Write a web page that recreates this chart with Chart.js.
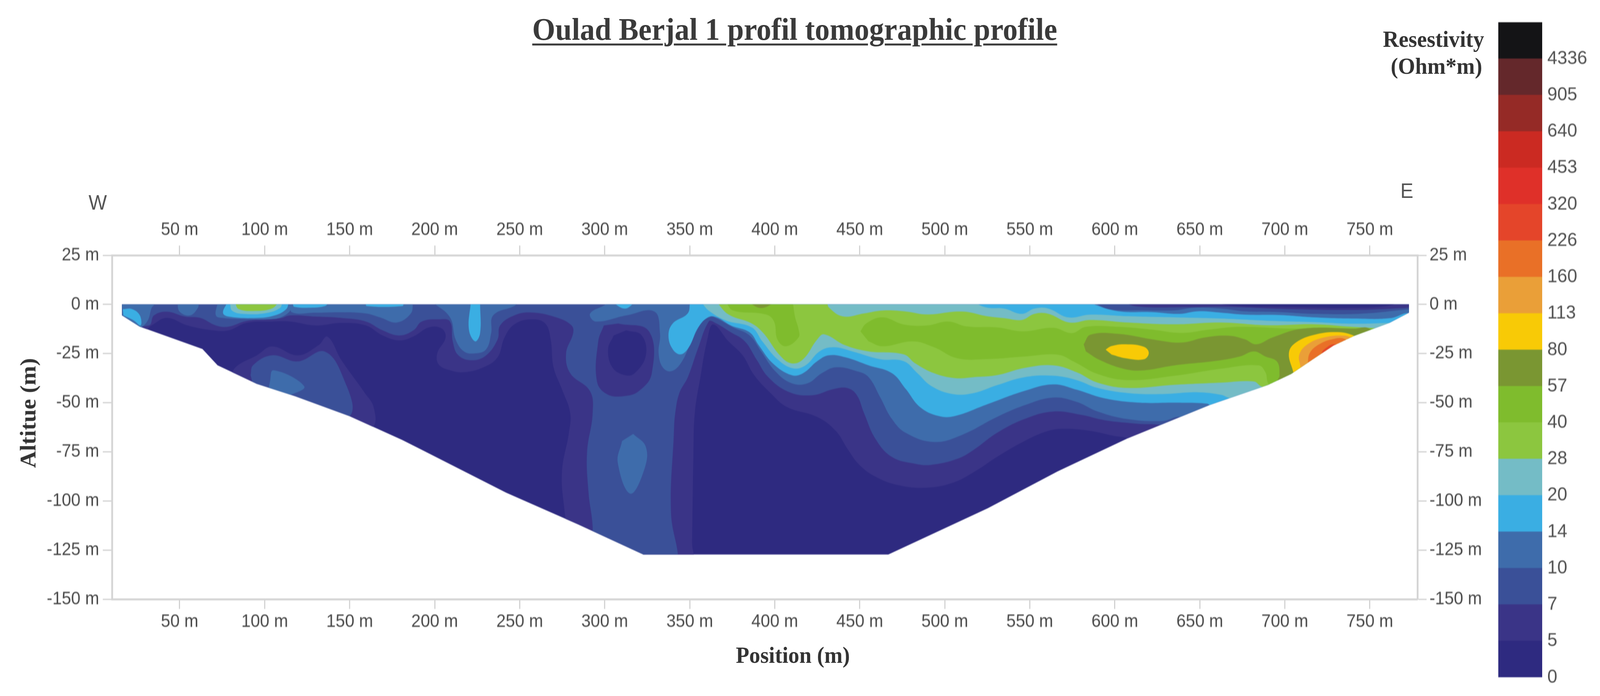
<!DOCTYPE html>
<html lang="en">
<head>
<meta charset="UTF-8">
<title>Oulad Berjal 1 profil tomographic profile</title>
<script src="https://cdn.jsdelivr.net/npm/chart.js"></script>
<style>
  html, body { margin: 0; padding: 0; background: #fff; overflow: hidden; }
  #page { position: absolute; left: 0; top: 0; width: 4373px; height: 1783px; transform-origin: 0 0; }
  canvas { position: absolute; top: 0; filter: blur(0.8px); }
  #main { left: 0; }
  #bar { left: 4095px; }
  .lbl { position: absolute; white-space: nowrap; transform: translate(-50%, -50%); }
  .serif { font-family: "Liberation Serif", serif; font-weight: bold; color: #333; font-size: 60px; }
  .sans { font-family: "Liberation Sans", sans-serif; color: #555; font-size: 53px; }
  #title { font-size: 81px; color: #3a3a3a; text-decoration: underline; text-decoration-thickness: 5px; text-underline-offset: 10px; }
</style>
</head>
<body>
<div id="page">
<canvas id="main" width="4373" height="1783"></canvas>
<canvas id="bar" width="278" height="1783"></canvas>

<div id="title" class="lbl serif" style="left:2172px; top:75px">Oulad Berjal 1 profil tomographic profile</div>
<div class="lbl serif" style="left:3918px; top:100px">Resestivity</div>
<div class="lbl serif" style="left:3926px; top:169px">(Ohm*m)</div>
<div class="lbl serif" style="left:2167px; top:1678px">Position (m)</div>
<div class="lbl serif" style="left:77px; top:1058px; transform:translate(-50%,-50%) rotate(-90deg)">Altitue (m)</div>
<div class="lbl sans" style="left:267px; top:518px">W</div>
<div class="lbl sans" style="left:3845px; top:488px">E</div>
</div>

<script>
// the browser window can come up narrower than the 4373 px layout, so fit it to the width we got
document.getElementById('page').style.transform = 'scaleX(' + (window.innerWidth / 4373) + ')';

// axes
const xMin = 10.2, xMax = 778, yMin = -150, yMax = 25;
const xTickValues = [50, 100, 150, 200, 250, 300, 350, 400, 450, 500, 550, 600, 650, 700, 750];
const yTickValues = [25, 0, -25, -50, -75, -100, -125, -150];

// colour scale
const bandLabels = ['0', '5', '7', '10', '14', '20', '28', '40', '57', '80', '113', '160', '226', '320', '453', '640', '905', '4336'];
const bandColors = ['#2e2a80', '#3a3487', '#3a5098', '#3e6cab', '#3aaee3', '#74bcc6', '#8cc63f', '#7fbc2d', '#7a9632',
  '#f8ca06', '#ea9f38', '#e97027', '#e4452a', '#df3029', '#cb2a22', '#952a26', '#64282b', '#141416'];

// section outline [position m, altitude m]
const profileOutline = [[16.1,0],[16.1,-5.6],[26.5,-11.3],[63.4,-22.7],[72.3,-31],[95.3,-40.4],[117.9,-46.7],[149.7,-56.8],[180.9,-69],[192.4,-74],[242,-95.8],[284.5,-112],[322.8,-127.3],[466.8,-127.3],[525.4,-103.7],[566.4,-85],[608,-68],[655.8,-51.2],[690,-41],[703.7,-35.4],[717.4,-27.4],[728.5,-21],[740.7,-16],[761.7,-9.3],[773,-4.2],[773,0]];

// contours, each one is clipped to the outline
const band5Main = [[12,5],[12,-10],[29,-13.2],[33.5,-10.7],[42.5,-6.9],[54.6,-10.7],[69.7,-13.2],[78.8,-13.2],[89.3,-9.4],[104.4,-8.7],[114.9,-8.7],[130,-10.7],[145.2,-9.4],[159.5,-10.7],[169.4,-15.8],[179.2,-18.3],[187.5,-16.3],[196.6,-11.7],[204,-12.2],[206.4,-16.8],[201.5,-24.9],[202.3,-30.5],[209,-33.5],[217.2,-34.5],[228.7,-32],[237,-26.9],[241.1,-16.8],[246.8,-10.2],[256.7,-7.6],[265,-9.7],[268.2,-17.8],[269.9,-32],[274.8,-43.1],[279.7,-55.3],[278.9,-65.4],[274.8,-85.7],[276.5,-106],[278.2,-116],[278,-135],[351,-135],[351.4,-121.2],[352.2,-75.5],[353,-55.3],[356.3,-37],[360.4,-17.8],[363.8,-10.2],[372.8,-18.8],[381.1,-25.9],[387.9,-36],[397.5,-45.1],[407.2,-52.2],[425,-57.3],[435.9,-64.4],[442.8,-73.5],[449.7,-81.6],[459.3,-87.7],[471.7,-91.8],[488.1,-93.3],[504.6,-90.8],[518.3,-84.7],[530.7,-77.6],[547,-69.5],[559.7,-64.7],[569.2,-63.3],[584.3,-64.2],[599.4,-66.9],[607.7,-68.2],[625,-76],[777,-76],[777,5]];
const band5Patch = [[80.2,-38.5],[82.6,-32.2],[95.4,-25.9],[104.4,-21.4],[119.5,-25.9],[131.6,-20.8],[137,-16.4],[145.2,-28.4],[158.8,-44.9],[164.2,-52.5],[163.4,-62.6],[141,-70],[90,-50]];
const band7Main = [[12,5],[12,-9],[31.9,-10.7],[34.9,-5.6],[42.5,-3.7],[53.1,-6.2],[62.2,-6.9],[71.3,-10.7],[78.8,-11.3],[89.3,-8.4],[109,-7.1],[115,-5.6],[130.1,-6.2],[145.2,-6.9],[159.5,-8.7],[169.4,-13.2],[179.2,-15.8],[187.5,-13.2],[192.4,-8.7],[202.3,-7.6],[209,-8.7],[210.6,-18.8],[213.9,-25.9],[222.1,-28.4],[230.3,-25.9],[237,-17.8],[238.5,-10.7],[246.8,-5.6],[256.7,-4.1],[271.5,-6.6],[280.5,-10.7],[281.4,-14.7],[277.3,-24.9],[279.7,-35],[291.3,-44.1],[292.9,-55.3],[289.6,-75.5],[290.5,-95.8],[292.9,-113],[293,-135],[343,-135],[343.1,-127.4],[339,-106],[340.7,-65.4],[341.5,-55.3],[343.9,-45.1],[348.9,-37],[354.7,-22.8],[361.2,-8.7],[364.6,-9.2],[374.2,-14.2],[382.4,-18.8],[389.2,-27.9],[396.2,-37],[408.5,-44.6],[422.2,-46.2],[434.6,-43.1],[442.8,-42.6],[448.3,-46.2],[452.5,-55.3],[459.3,-68.5],[468.9,-77.6],[482.7,-81.1],[492.2,-81.6],[507.3,-78.6],[517,-74],[530.7,-65.4],[547,-58.3],[563.8,-54.5],[580.2,-56.2],[594,-58.9],[613.2,-60.7],[629.6,-62],[645,-70],[777,-70],[777,5]];
const band7Patch = [[91.7,-36],[93.2,-30.9],[104.4,-25.9],[119.5,-29],[135.4,-24],[146.8,-38.5],[150.6,-56.3],[130.5,-60],[95.4,-48]];
const band5Blob = [[308,-9.7],[326,-13.7],[327.7,-35],[320.1,-44.1],[311,-46.7],[301.2,-45.6],[295.4,-39],[296.2,-18.8],[299.5,-10.7]];
const band0Blob = [[312.7,-13.2],[321.8,-15.8],[324.2,-25.9],[317.6,-35],[311.9,-36],[304.5,-32],[302,-22.8],[305.3,-15.8]];
const band10Left = [[12,5],[12,-20],[27,-12],[31.3,-8.1],[33.5,-1.8],[35,0],[35,5]];
const band10Chip = [[48.6,1],[50,-3.7],[56.1,-5.6],[60.7,-1.8],[61.3,1]];
const band10Upper = [[72.4,1],[71.3,-5.6],[75.5,-6.9],[89.3,-7.5],[104.4,-7.5],[110.5,-6.2],[115.8,-2.4],[116.5,1]];
const band10Ridge = [[116,1],[116,-4],[130,-4.2],[145,-4],[159.5,-4.6],[167.8,-6.6],[177.7,-9.2],[186,-4.6],[187.3,1]];
const band10Lobe = [[199,1],[209,-6.6],[212.3,-17.8],[217.2,-23.9],[223.8,-24.9],[230.3,-22.8],[233.2,-14.7],[234.4,-5.6],[246.8,-0.8],[249.3,1]];
const band10Patch = [[103,-39.8],[105.2,-33.5],[123.3,-41.7],[115,-46.1],[100.4,-50]];
const band10Oval = [[316.8,-65.9],[324.2,-72.5],[323.4,-83.7],[315.1,-96.3],[307.7,-80.6],[310.2,-69.5]];
const band10Main = [[302,5],[302,1],[291.4,-4.6],[294.7,-8.7],[312.7,-5.6],[329.2,-3.6],[332.5,-14.7],[331.7,-24.9],[334.1,-32],[339,-34],[344.7,-30],[350.6,-19.8],[357.1,-9.2],[362.1,-6.4],[364.6,-6.6],[375.5,-11.7],[385.2,-15.8],[392,-23.9],[400.3,-34],[409.9,-40.1],[419.4,-40.1],[427.7,-35],[435.9,-32],[448.3,-34],[455.2,-37],[462,-47.2],[468.9,-58.3],[477.1,-65.4],[493.7,-70],[510.1,-66.4],[530.7,-57.3],[547,-51.3],[563.8,-47.4],[577.5,-49.6],[589.9,-54.5],[607.7,-58.4],[628.2,-59.3],[639.3,-57.6],[655,-70],[777,-70],[777,5]];
const stripBand7 = [[589.9,2],[589.9,0],[598.1,-2.6],[614.6,-3],[635.2,-3],[646.1,-1.7],[662.5,-2.1],[676.3,-3.5],[696.8,-3.9],[717.4,-4.8],[745.4,-4.7],[773,-2.5],[777,-2.5],[777,2]];
const stripBand5 = [[603,2],[613,-1],[644,-1.4],[664,-1.2],[704,-2.4],[741,-2.8],[765,-2],[775,-1],[777,2]];
const stripBand0 = [[654,2],[669,-0.6],[704,-1.4],[741,-1.7],[760,-0.8],[770,2]];
const band14Main = [[350.2,1],[348.8,-4.6],[340,-9.7],[337.5,-15.8],[340,-22.8],[344.8,-25.4],[349.5,-21.8],[355,-11.7],[361.1,-6.4],[366,-6.6],[374.2,-10.7],[385.2,-14.2],[390.6,-20.8],[398.9,-30],[409.9,-36],[416.7,-35],[425,-28.9],[431.8,-25.9],[441.5,-26.9],[455.2,-31],[468.9,-35],[477.1,-43.1],[485.4,-52.2],[496.4,-56.8],[506,-56.8],[523.9,-51.2],[547,-44],[563.8,-40.7],[577.5,-43.4],[594,-47.8],[614.6,-50],[635.2,-50],[654.3,-50.5],[657,-52],[684,-60],[777,-60],[777,-8],[773,-4.4],[762,-7],[740.7,-7.2],[717.4,-6.6],[696.8,-5.4],[676.3,-5.2],[662.5,-4.2],[648.8,-3.5],[638,-4.8],[621.4,-3.9],[602.2,-3.5],[587.8,0],[587.8,1]];
const band14Left = [[16.6,-2.4],[22.1,-2.4],[26.6,-5.6],[27.1,-10.7],[22.9,-8.1],[16.9,-5.6]];
const band14Upper = [[78,1],[75.5,-4.3],[78.8,-6.2],[95.3,-6.9],[105.9,-5.6],[112.7,-2.4],[114.2,1]];
const band14Ridge = [[116.5,0.5],[117.4,-1.2],[128.5,-1.6],[135.5,-0.8],[137.5,0.5]];
const band14Chip = [[159.5,1],[160,-0.8],[181,-0.8],[182,1]];
const band14Stripe = [[221.2,1],[220.1,-12.7],[223.8,-18.8],[226.7,-14.7],[226.7,1]];
const band14Dip = [[304.5,1],[311.9,-2.1],[317.8,1]];
const band20Upper = [[79.5,1],[81,-3.3],[89.3,-4.9],[101.4,-4.3],[109,-1.8],[110.5,1]];
const band20Main = [[357,1],[361.1,-3.1],[371.4,-8.2],[386.5,-11.7],[392.7,-18.8],[401.6,-27.9],[410.6,-32.5],[418.1,-31],[426.4,-23.9],[434.6,-21.8],[445.6,-23.9],[462,-27.9],[475.8,-28.9],[483.9,-35],[492.2,-41.6],[504.6,-45.6],[517,-45.1],[530.7,-41.1],[547,-37],[563.8,-36.3],[577.5,-38.5],[589.9,-42.5],[607.7,-45.1],[628.2,-45.6],[648.8,-44.7],[662.5,-46],[666.6,-47.4],[690,-55],[777,-55],[777,-9],[762,-9.4],[739.6,-9.8],[717.4,-9],[690,-8.3],[662.5,-7.2],[635.2,-6.6],[607.7,-6],[585.7,-5.2],[572.6,-6.6],[560.9,-2.1],[552.8,-2.1],[545.3,-4.8],[534.9,-2.1],[525.4,-1.7],[519.7,0],[519.7,1]];
const band28Upper = [[82.5,1],[84.8,-2.4],[95.3,-3.3],[104.4,-2],[108.2,1]];
const band28Main = [[366,1],[372.8,-5.1],[386.5,-9.7],[393.4,-14.7],[403,-25.9],[409.9,-30],[416.7,-27.9],[425,-17.8],[429.1,-15.2],[441.5,-20.8],[455.2,-23.9],[475.8,-25.4],[482.7,-30],[493.7,-35],[506,-37.5],[517,-37],[530.7,-36],[547,-32.3],[563.8,-31],[577.5,-34.5],[589.9,-39.8],[607.7,-42.5],[635.2,-40.9],[662.5,-39.8],[681.7,-39.2],[685.9,-41.6],[705,-50],[777,-50],[777,-12],[762,-12.3],[739.6,-11.4],[717.4,-10.1],[690,-10.6],[662.5,-9.2],[635.2,-10.1],[607.7,-9.2],[585.7,-7.9],[573.3,-9.2],[560.9,-4.8],[552.8,-4.8],[545.3,-7.9],[534.9,-7],[525.4,-6.1],[510,-3.6],[489.5,-5.1],[477.1,-3.6],[463.4,-3.1],[452.5,-4.6],[440.1,-6.1],[431.9,-1.6],[430.8,1]];
const band40Tongue = [[371.4,1],[375.5,-3.1],[394.8,-5.1],[399.6,-8.7],[401.6,-17.8],[406.5,-21.3],[414,-16.8],[414,-12.7],[412,-6.6],[410.6,1]];
const band40Main = [[450.4,-13.7],[453.8,-9.7],[463.4,-6.6],[475.8,-10.2],[489.5,-10.7],[502,-8.7],[512.9,-11.2],[530.7,-11.7],[545.9,-13.7],[563.8,-11.9],[574.8,-14.6],[583,-11.4],[602.1,-11.4],[621.4,-12.8],[639.3,-14.5],[655.7,-12.8],[673.5,-11.4],[703.7,-12.3],[740.7,-12.3],[755,-14],[765,-30],[705,-50],[690.7,-40.7],[688.6,-34.5],[684.5,-31],[662.5,-32.7],[635.2,-36.3],[607.7,-38.5],[589.9,-35.4],[576.1,-29.2],[566.6,-25.6],[547,-26.5],[525.4,-27.8],[507.3,-27.4],[493.7,-21.8],[481.3,-18.8],[463.4,-21.3],[455.2,-18.8]];
const band57Chip = [[384.5,1],[392,-1.8],[400.3,1]];
const band57Main = [[581.7,-20.3],[585.7,-15.4],[602.1,-15],[624.2,-18.1],[639.3,-19.4],[653,-16.8],[666.7,-15.9],[676.3,-17.7],[683.2,-20.3],[692.8,-16.8],[710.6,-12.3],[740.7,-12.3],[750,-12.5],[760,-25],[720,-50],[696,-39],[696.9,-36.3],[695.5,-29.2],[688.6,-26.5],[681.8,-23.9],[673.5,-26.5],[659.8,-28.7],[635.2,-31],[615.9,-33.6],[605,-32.7],[591.2,-28.3],[583,-23.9]];
const band80Blob = [[594.6,-23],[598.1,-21.2],[606.3,-20.3],[617.2,-21.6],[620,-24.7],[617.2,-27.9],[606.3,-27.4],[598.1,-25.5]];
const band80Right = [[705,-34.5],[702.4,-24.7],[706.5,-19.4],[717.5,-15.4],[731.2,-14.1],[740.7,-15.9],[750,-20],[720,-42],[705,-42]];
const band113 = [[709.2,-31.8],[708.5,-25.6],[713.4,-20.3],[723,-16.8],[735.4,-15.9],[740.7,-17.7],[750,-22],[725,-42],[710,-40]];
const band160 = [[713.4,-30.5],[714.7,-24.7],[720.2,-20.3],[728.5,-17.6],[735.3,-17.6],[745,-24],[725,-40]];
const band226 = [[721,-26.1],[723,-23],[729.8,-20.3],[740,-25],[725,-35]];

// painter's order: [contour, index into bandColors]
const layers = [
  [band5Main, 1], [band5Patch, 1], [band7Main, 2], [band7Patch, 2], [band5Blob, 1], [band0Blob, 0],
  [band10Main, 3], [band10Left, 3], [band10Chip, 3], [band10Upper, 3], [band10Ridge, 3], [band10Lobe, 3], [band10Patch, 3], [band10Oval, 3],
  [stripBand7, 2], [stripBand5, 1], [stripBand0, 0],
  [band14Main, 4], [band14Left, 4], [band14Upper, 4], [band14Ridge, 4], [band14Chip, 4], [band14Stripe, 4], [band14Dip, 4],
  [band20Main, 5], [band20Upper, 5], [band28Main, 6], [band28Upper, 6],
  [band40Main, 7], [band40Tongue, 7], [band57Main, 8], [band57Chip, 8],
  [band80Blob, 9], [band80Right, 9], [band113, 10], [band160, 11], [band226, 12]
];

const toXY = pts => pts.map(p => ({ x: p[0], y: p[1] }));

const datasets = [{
  data: toXY(profileOutline), showLine: true, fill: 'shape', tension: 0, pointRadius: 0, borderWidth: 0,
  backgroundColor: bandColors[0], order: layers.length + 1
}];
layers.forEach((l, i) => datasets.push({
  data: toXY(l[0]), showLine: true, fill: 'shape', tension: 0.4, pointRadius: 0, borderWidth: 0,
  backgroundColor: bandColors[l[1]], order: layers.length - i
}));

// keep the contours inside the section outline
const clipToProfile = {
  id: 'clipToProfile',
  beforeDatasetsDraw(chart) {
    const { ctx, scales } = chart;
    ctx.save();
    ctx.beginPath();
    profileOutline.forEach((p, i) => {
      const px = scales.x.getPixelForValue(p[0]), py = scales.y.getPixelForValue(p[1]);
      i ? ctx.lineTo(px, py) : ctx.moveTo(px, py);
    });
    ctx.closePath();
    ctx.clip();
  },
  afterDatasetsDraw(chart) { chart.ctx.restore(); }
};

const axisGrey = '#d4d4d4';
const tickFont = { family: '"Liberation Sans", sans-serif', size: 46 };
const axisGrid = { drawOnChartArea: false, tickLength: 25, tickWidth: 3, tickColor: '#cfcfcf' };
const axisBorder = { color: axisGrey, width: 5 };
const mLabel = v => v + ' m';

function xAxis(position, boxHeight, padding) {
  return {
    type: 'linear', position, min: xMin, max: xMax,
    grid: axisGrid, border: axisBorder,
    ticks: { font: tickFont, color: '#4a4a4a', padding, autoSkip: false, maxRotation: 0, callback: mLabel },
    afterBuildTicks: s => { s.ticks = xTickValues.map(v => ({ value: v })); },
    afterFit: s => { s.height = boxHeight; }
  };
}
function yAxis(position, boxWidth, padding) {
  return {
    type: 'linear', position, min: yMin, max: yMax,
    grid: axisGrid, border: axisBorder,
    ticks: { font: tickFont, color: '#4a4a4a', padding, autoSkip: false, callback: mLabel },
    afterBuildTicks: s => { s.ticks = yTickValues.map(v => ({ value: v })); },
    afterFit: s => { s.width = boxWidth; }
  };
}

new Chart(document.getElementById('main'), {
  type: 'scatter',
  data: { datasets },
  options: {
    responsive: false, animation: false, devicePixelRatio: 1, events: [],
    layout: { padding: 0 },
    plugins: { legend: { display: false }, tooltip: { enabled: false } },
    scales: {
      x: xAxis('bottom', 248, 6),
      xTop: xAxis('top', 654, 12),
      y: yAxis('left', 306, 10),
      yRight: yAxis('right', 499, 8)
    }
  },
  plugins: [clipToProfile]
});

// colour scale, one stacked bar segment per band
new Chart(document.getElementById('bar'), {
  type: 'bar',
  data: {
    labels: [''],
    datasets: bandColors.map(c => ({ data: [1], backgroundColor: c, barPercentage: 1, categoryPercentage: 1, borderWidth: 0 }))
  },
  options: {
    responsive: false, animation: false, devicePixelRatio: 1, events: [],
    layout: { padding: { top: 57, bottom: 48 } },
    plugins: { legend: { display: false }, tooltip: { enabled: false } },
    scales: {
      x: { stacked: true, display: false },
      y: {
        stacked: true, position: 'right', min: 0, max: bandLabels.length,
        grid: { display: false, drawTicks: false }, border: { display: false },
        ticks: {
          font: { family: '"Liberation Sans", sans-serif', size: 49 }, color: '#505050', padding: 14, autoSkip: false,
          callback: v => bandLabels[v]
        },
        afterBuildTicks: s => { s.ticks = bandLabels.map((l, i) => ({ value: i })); },
        afterFit: s => { s.width = 158; }
      }
    }
  }
});
</script>
</body>
</html>
